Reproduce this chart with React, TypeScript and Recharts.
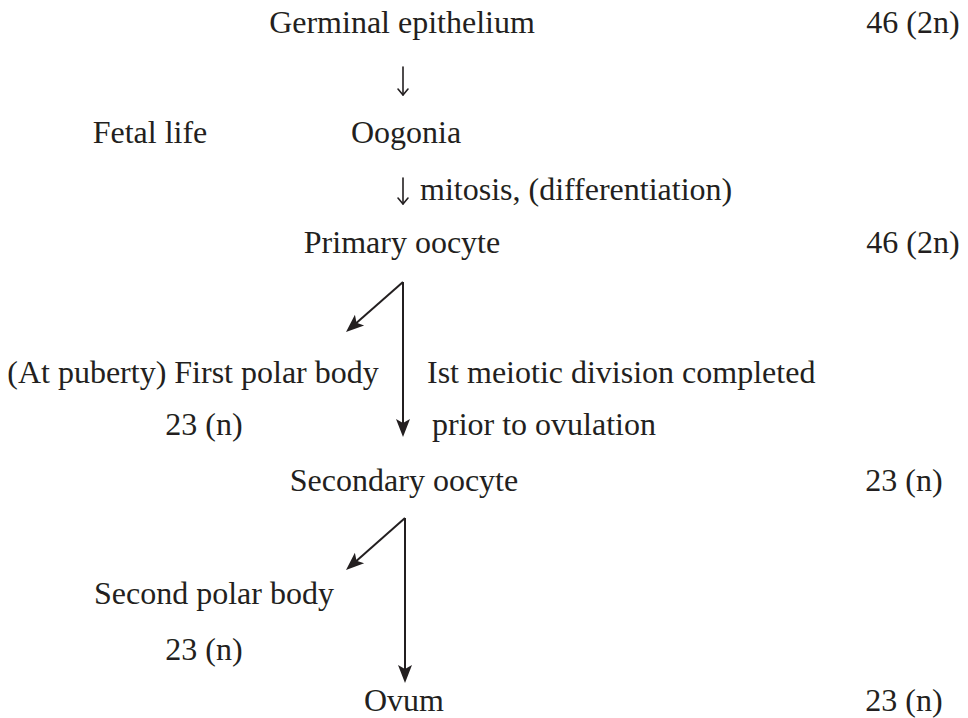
import { ReferenceLine, Scatter, ScatterChart, XAxis, YAxis } from 'recharts';

const INK = '#231f20';
const W = 968;
const H = 718;

// diagram labels (x, baseline y in page pixels)
const labelText = [
	'Germinal epithelium',
	'46 (2n)',
	'Fetal life',
	'Oogonia',
	'mitosis, (differentiation)',
	'Primary oocyte',
	'46 (2n)',
	'(At puberty) First polar body',
	'Ist meiotic division completed',
	'23 (n)',
	'prior to ovulation',
	'Secondary oocyte',
	'23 (n)',
	'Second polar body',
	'23 (n)',
	'Ovum',
	'23 (n)'
];
const labelX = [402, 913, 150, 406, 420, 402, 913, 193, 427, 204, 432, 404, 904, 214, 204, 404, 904];
const labelY = [33, 33, 143, 143, 200, 253, 253, 383, 383, 435, 435, 491, 491, 604, 660, 711, 711];
const labelAnchor = [
	'middle', 'middle', 'middle', 'middle', 'start', 'middle', 'middle', 'middle',
	'start', 'middle', 'start', 'middle', 'middle', 'middle', 'middle', 'middle', 'middle'
];

// small "↓" signs in the text rows
const glyphX = [403, 403];
const glyphTop = [67, 178];
const glyphBottom = [95, 204];

// arrows: start and tip
const arrowFromX = [403, 403, 405, 405];
const arrowFromY = [282, 282, 518, 518];
const arrowToX = [403, 346, 405, 346];
const arrowToY = [437, 332, 683, 570];

const labels = labelText.map((text, i) => ({ x: labelX[i], y: labelY[i], text, anchor: labelAnchor[i] }));

const glyphs = glyphX.map((x, i) => ({ x, y: glyphBottom[i], len: glyphBottom[i] - glyphTop[i] }));

const heads = arrowToX.map((x, i) => ({
	x,
	y: arrowToY[i],
	angle: (Math.atan2(arrowToY[i] - arrowFromY[i], x - arrowFromX[i]) * 180) / Math.PI
}));

const HEAD = 18;

const LabelShape = (props: any) => {
	const { cx, cy, payload } = props;
	return (
		<text
			x={cx}
			y={cy}
			textAnchor={payload.anchor}
			fontFamily="'Liberation Serif', 'Times New Roman', serif"
			fontSize={32}
			fill={INK}
		>
			{payload.text}
		</text>
	);
};

const GlyphShape = (props: any) => {
	const { cx, cy, payload } = props;
	return (
		<g stroke={INK} strokeWidth={1.6} fill="none" strokeLinecap="round" strokeLinejoin="round">
			<line x1={cx} y1={cy - payload.len} x2={cx} y2={cy} />
			<polyline points={`${cx - 5},${cy - 6} ${cx},${cy} ${cx + 5},${cy - 6}`} />
		</g>
	);
};

const HeadShape = (props: any) => {
	const { cx, cy, payload } = props;
	return (
		<polygon
			points={`0,0 ${-HEAD},-7 ${-HEAD + 4},0 ${-HEAD},7`}
			fill={INK}
			transform={`translate(${cx},${cy}) rotate(${payload.angle})`}
		/>
	);
};

const App = () => {
	return (
		<div style={{ position: 'absolute', left: 0, top: 0, width: W, height: H, background: '#fff' }}>
			<ScatterChart width={W} height={H} margin={{ top: 0, right: 0, bottom: 0, left: 0 }}>
				<XAxis type="number" dataKey="x" domain={[0, W]} hide allowDataOverflow />
				<YAxis type="number" dataKey="y" domain={[0, H]} reversed hide allowDataOverflow />
				{arrowFromX.map((x, i) => {
					const dx = arrowToX[i] - x;
					const dy = arrowToY[i] - arrowFromY[i];
					const len = Math.hypot(dx, dy);
					const k = (len - HEAD + 5) / len;
					return (
						<ReferenceLine
							key={i}
							segment={[
								{ x, y: arrowFromY[i] },
								{ x: x + dx * k, y: arrowFromY[i] + dy * k }
							]}
							stroke={INK}
							strokeWidth={2}
							ifOverflow="visible"
						/>
					);
				})}
				<Scatter data={heads} shape={HeadShape} isAnimationActive={false} />
				<Scatter data={glyphs} shape={GlyphShape} isAnimationActive={false} />
				<Scatter data={labels} shape={LabelShape} isAnimationActive={false} />
			</ScatterChart>
		</div>
	);
};

export default App;
